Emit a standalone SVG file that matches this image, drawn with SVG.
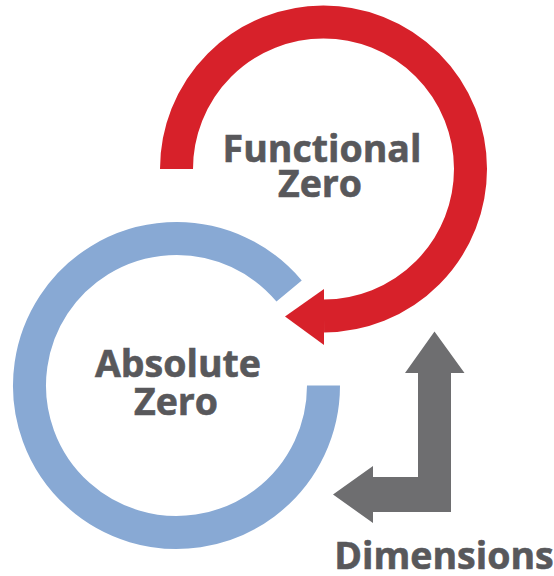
<svg xmlns="http://www.w3.org/2000/svg" width="554" height="576" viewBox="0 0 554 576">
<style>
.lbl{font-family:"Open Sans","Liberation Sans",sans-serif;font-weight:700;fill:#58585b;stroke:#58585b;stroke-width:0.6;text-anchor:middle;font-size:37.5px}
.ring{fill:none;stroke-width:33;stroke-linecap:butt}
</style>
<rect width="554" height="576" fill="#ffffff"/>
<g id="connectors">
<g id="functional-arrow">
<path class="ring" stroke="#d7212a" d="M 176.5 169 A 147 147 0 1 1 324 316"/>
<polygon fill="#d7212a" points="324,289 285,316.5 324,345"/>
</g>
<g id="dimensions-arrow">
<path fill="#6e6e70" d="M 434.5 331.5 L 464.5 373 L 451 373 L 451 512 L 373 512 L 373 523 L 333 494.5 L 373 466 L 373 477 L 418 477 L 418 373 L 405 373 Z"/>
</g>
</g>
<g id="absolute-zero">
<path class="ring" stroke="#88a9d4" d="M 323.5 385.5 A 147 147 0 1 1 289.1 291"/>
<text class="lbl" x="178" y="377">Absolute</text>
<text class="lbl" x="176" y="415">Zero</text>
</g>
<g id="functional-zero">
<text class="lbl" x="322" y="162">Functional</text>
<text class="lbl" x="320" y="197">Zero</text>
</g>
<g id="dimensions">
<text class="lbl" x="444" y="569">Dimensions</text>
</g>
</svg>
